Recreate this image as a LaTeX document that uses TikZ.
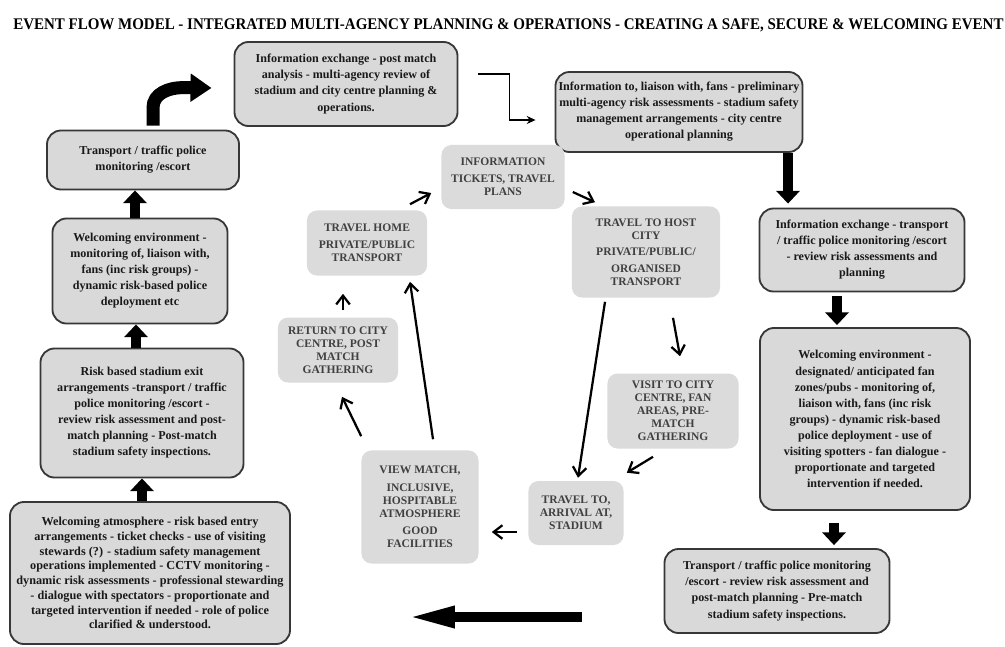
\documentclass[tikz,border=0pt]{standalone}
\usepackage{graphicx}
\usepackage{fontspec}
\setmainfont{Liberation Serif}
\usepackage{xcolor}
\definecolor{boxgray}{RGB}{217,217,217}
\definecolor{stagegray}{RGB}{219,219,219}
\definecolor{edgedark}{RGB}{55,55,55}
\usetikzlibrary{shapes,arrows.meta,positioning,calc}

\begin{document}
\begin{tikzpicture}[
    x=0.025cm, y=-0.025cm,
    agency/.style={rectangle, draw=edgedark, line width=1.3pt, rounded corners=3.5mm, fill=boxgray, align=center, inner sep=0pt, font=\bfseries\fontsize{8.6}{11.4}\selectfont, text=black!90},
    stage/.style={rectangle, rounded corners=2.5mm, fill=stagegray, align=center, inner sep=0pt, font=\bfseries\fontsize{8.2}{9.3}\selectfont, text=black!75},
    cycarrow/.style={-{Straight Barb[length=2.2mm, width=3.4mm]}, line width=1.6pt},
    blkarrow/.style={-{Triangle[length=3.2mm, width=5.8mm]}, line width=2.5mm},
    bentarrow/.style={-{Triangle[length=5.25mm, width=6.75mm]}, line width=3.25mm},
    bigarrow/.style={-{Triangle[length=11.75mm, width=5mm]}, line width=2.3mm},
    elbowarrow/.style={-{Stealth[length=2.2mm, width=2mm]}, line width=1.1pt}
]

\useasboundingbox[fill=white] (0,0) rectangle (1005,646);

\node[anchor=base west, inner sep=0pt] (title) at (13,29) {\resizebox{24.75cm}{0.27cm}{\bfseries EVENT FLOW MODEL - INTEGRATED MULTI-AGENCY PLANNING \& OPERATIONS - CREATING A SAFE, SECURE \& WELCOMING EVENT}};

\node[agency, minimum width=55.75mm, minimum height=21mm] (postmatch) at (346,84) {Information exchange - post match\\analysis - multi-agency review of\\stadium and city centre planning \&\\operations.};
\node[agency, minimum width=61.75mm, minimum height=20mm] (prelim) at (679,112) {Information to, liaison with, fans - preliminary\\multi-agency risk assessments - stadium safety\\management arrangements - city centre\\operational planning};
\node[agency, minimum width=51.25mm, minimum height=20.75mm] (infoexch) at (862,250) {Information exchange - transport\\/ traffic police  monitoring /escort\\- review risk assessments and\\planning};
\node[agency, minimum width=52.5mm, minimum height=45.5mm] (welcenv) at (865,419) {Welcoming environment -\\designated/ anticipated fan\\zones/pubs - monitoring of,\\liaison with, fans (inc risk\\groups) - dynamic risk-based\\police deployment - use of\\visiting spotters - fan dialogue -\\proportionate and targeted\\intervention if needed.};
\node[agency, minimum width=56.25mm, minimum height=21mm] (prematch) at (777,591) {Transport / traffic police  monitoring\\/escort - review risk assessment and\\post-match planning - Pre-match\\stadium safety inspections.};

\node[agency, minimum width=48mm, minimum height=14.75mm] (escort) at (143,160) {Transport / traffic police\\monitoring /escort};
\node[agency, minimum width=43.75mm, minimum height=26.25mm] (welcmon) at (140,271) {Welcoming environment -\\monitoring of, liaison with,\\fans (inc risk groups) -\\dynamic risk-based police\\deployment etc};
\node[agency, minimum width=50.75mm, minimum height=32.25mm] (exitarr) at (142,413) {Risk based stadium exit\\arrangements -transport / traffic\\police  monitoring /escort -\\review risk assessment and post-\\match planning - Post-match\\stadium safety inspections.};
\node[agency, minimum width=70mm, minimum height=35.5mm, font=\bfseries\fontsize{8.7}{10.5}\selectfont] (entry) at (150,573) {Welcoming atmosphere - risk based entry\\arrangements - ticket checks - use of visiting\\stewards (?)  - stadium safety management\\operations implemented - CCTV monitoring -\\dynamic risk assessments - professional stewarding\\- dialogue with spectators - proportionate and\\targeted intervention if needed - role of police\\clarified \& understood.};

\node[stage, minimum width=30.75mm, minimum height=16mm] (info) at (503,177) {INFORMATION\\[2.5pt]TICKETS, TRAVEL\\PLANS};
\node[stage, minimum width=30mm, minimum height=16.25mm] (travelhome) at (367,243) {TRAVEL HOME\\[2.5pt]PRIVATE/PUBLIC\\TRANSPORT};
\node[stage, minimum width=30mm, minimum height=16.25mm] (returncity) at (338,350) {RETURN TO CITY\\CENTRE, POST\\MATCH\\GATHERING};
\node[stage, minimum width=37mm, minimum height=22.75mm] (hostcity) at (646,252) {TRAVEL TO HOST\\CITY\\[2.5pt]PRIVATE/PUBLIC/\\[2.5pt]ORGANISED\\TRANSPORT};
\node[stage, minimum width=32.75mm, minimum height=18.75mm] (visitcity) at (673,411) {VISIT TO CITY\\CENTRE, FAN\\AREAS, PRE-\\MATCH\\GATHERING};
\node[stage, minimum width=23.75mm, minimum height=16mm] (arrival) at (576,513) {TRAVEL TO,\\ARRIVAL AT,\\STADIUM};
\node[stage, minimum width=29.25mm, minimum height=28.25mm] (viewmatch) at (420,507) {VIEW MATCH,\\[3pt]INCLUSIVE,\\HOSPITABLE\\ATMOSPHERE\\[3pt]GOOD\\FACILITIES};

\draw[blkarrow] ([xshift=-2mm]entry.north) -- ([xshift=-2mm]entry.north |- exitarr.south);
\draw[blkarrow] ([xshift=-1.5mm]exitarr.north) -- ([xshift=-1.5mm]exitarr.north |- welcmon.south);
\draw[blkarrow] ([xshift=-1.25mm]welcmon.north) -- ([xshift=-1.25mm]welcmon.north |- escort.south);
\draw[bentarrow] ($(escort.north)+(10,-4)$) -- ++(0,-18) to[out=90,in=180] ++(30,-20) -- ($(postmatch.west)+(-22,4)$);
\draw[elbowarrow] ($(postmatch.east)+(20,-10)$) -- ++(31,0) |- ($(prelim.west)+(-19,8)$);
\draw[blkarrow, shorten >=1mm] ([xshift=27.25mm]prelim.south) -- ([xshift=27.25mm]prelim.south |- infoexch.north);
\draw[blkarrow, shorten <=1mm, shorten >=0.5mm] ([xshift=-6.25mm]infoexch.south) -- ([xshift=-6.25mm]infoexch.south |- welcenv.north);
\draw[blkarrow, shorten <=3mm, shorten >=0.75mm] ([xshift=-7.75mm]welcenv.south) -- ([xshift=-7.75mm]welcenv.south |- prematch.north);
\draw[bigarrow, shorten <=20.5mm, shorten >=29.25mm] ([yshift=-6.5mm]prematch.west) -- ([yshift=-6.5mm]prematch.west -| entry.east);

\draw[cycarrow] ($(travelhome.north)+(43,-6)$) -- ($(info.west)+(-10,16)$);
\draw[cycarrow] ($(info.east)+(8,15)$) -- ($(hostcity.north)+(-51,-4)$);
\draw[cycarrow] ($(hostcity.south)+(27,20)$) -- ($(visitcity.north)+(7,-17)$);
\draw[cycarrow] ($(hostcity.south)+(-41,4)$) -- ($(arrival.north)+(2,-3)$);
\draw[cycarrow] ($(visitcity.south)+(-20,8)$) -- ($(arrival.north east)+(3,-8)$);
\draw[cycarrow] ($(arrival.west)+(-11,19)$) -- ($(viewmatch.east)+(13,25)$);
\draw[cycarrow] ($(viewmatch.north)+(13,-11)$) -- ($(travelhome.south)+(43,6)$);
\draw[cycarrow] ($(viewmatch.north west)+(0,-14)$) -- ($(returncity.south)+(4,14)$);
\draw[cycarrow] ($(returncity.north)+(5,-7)$) -- ($(travelhome.south)+(-24,18)$);

\end{tikzpicture}
\end{document}
